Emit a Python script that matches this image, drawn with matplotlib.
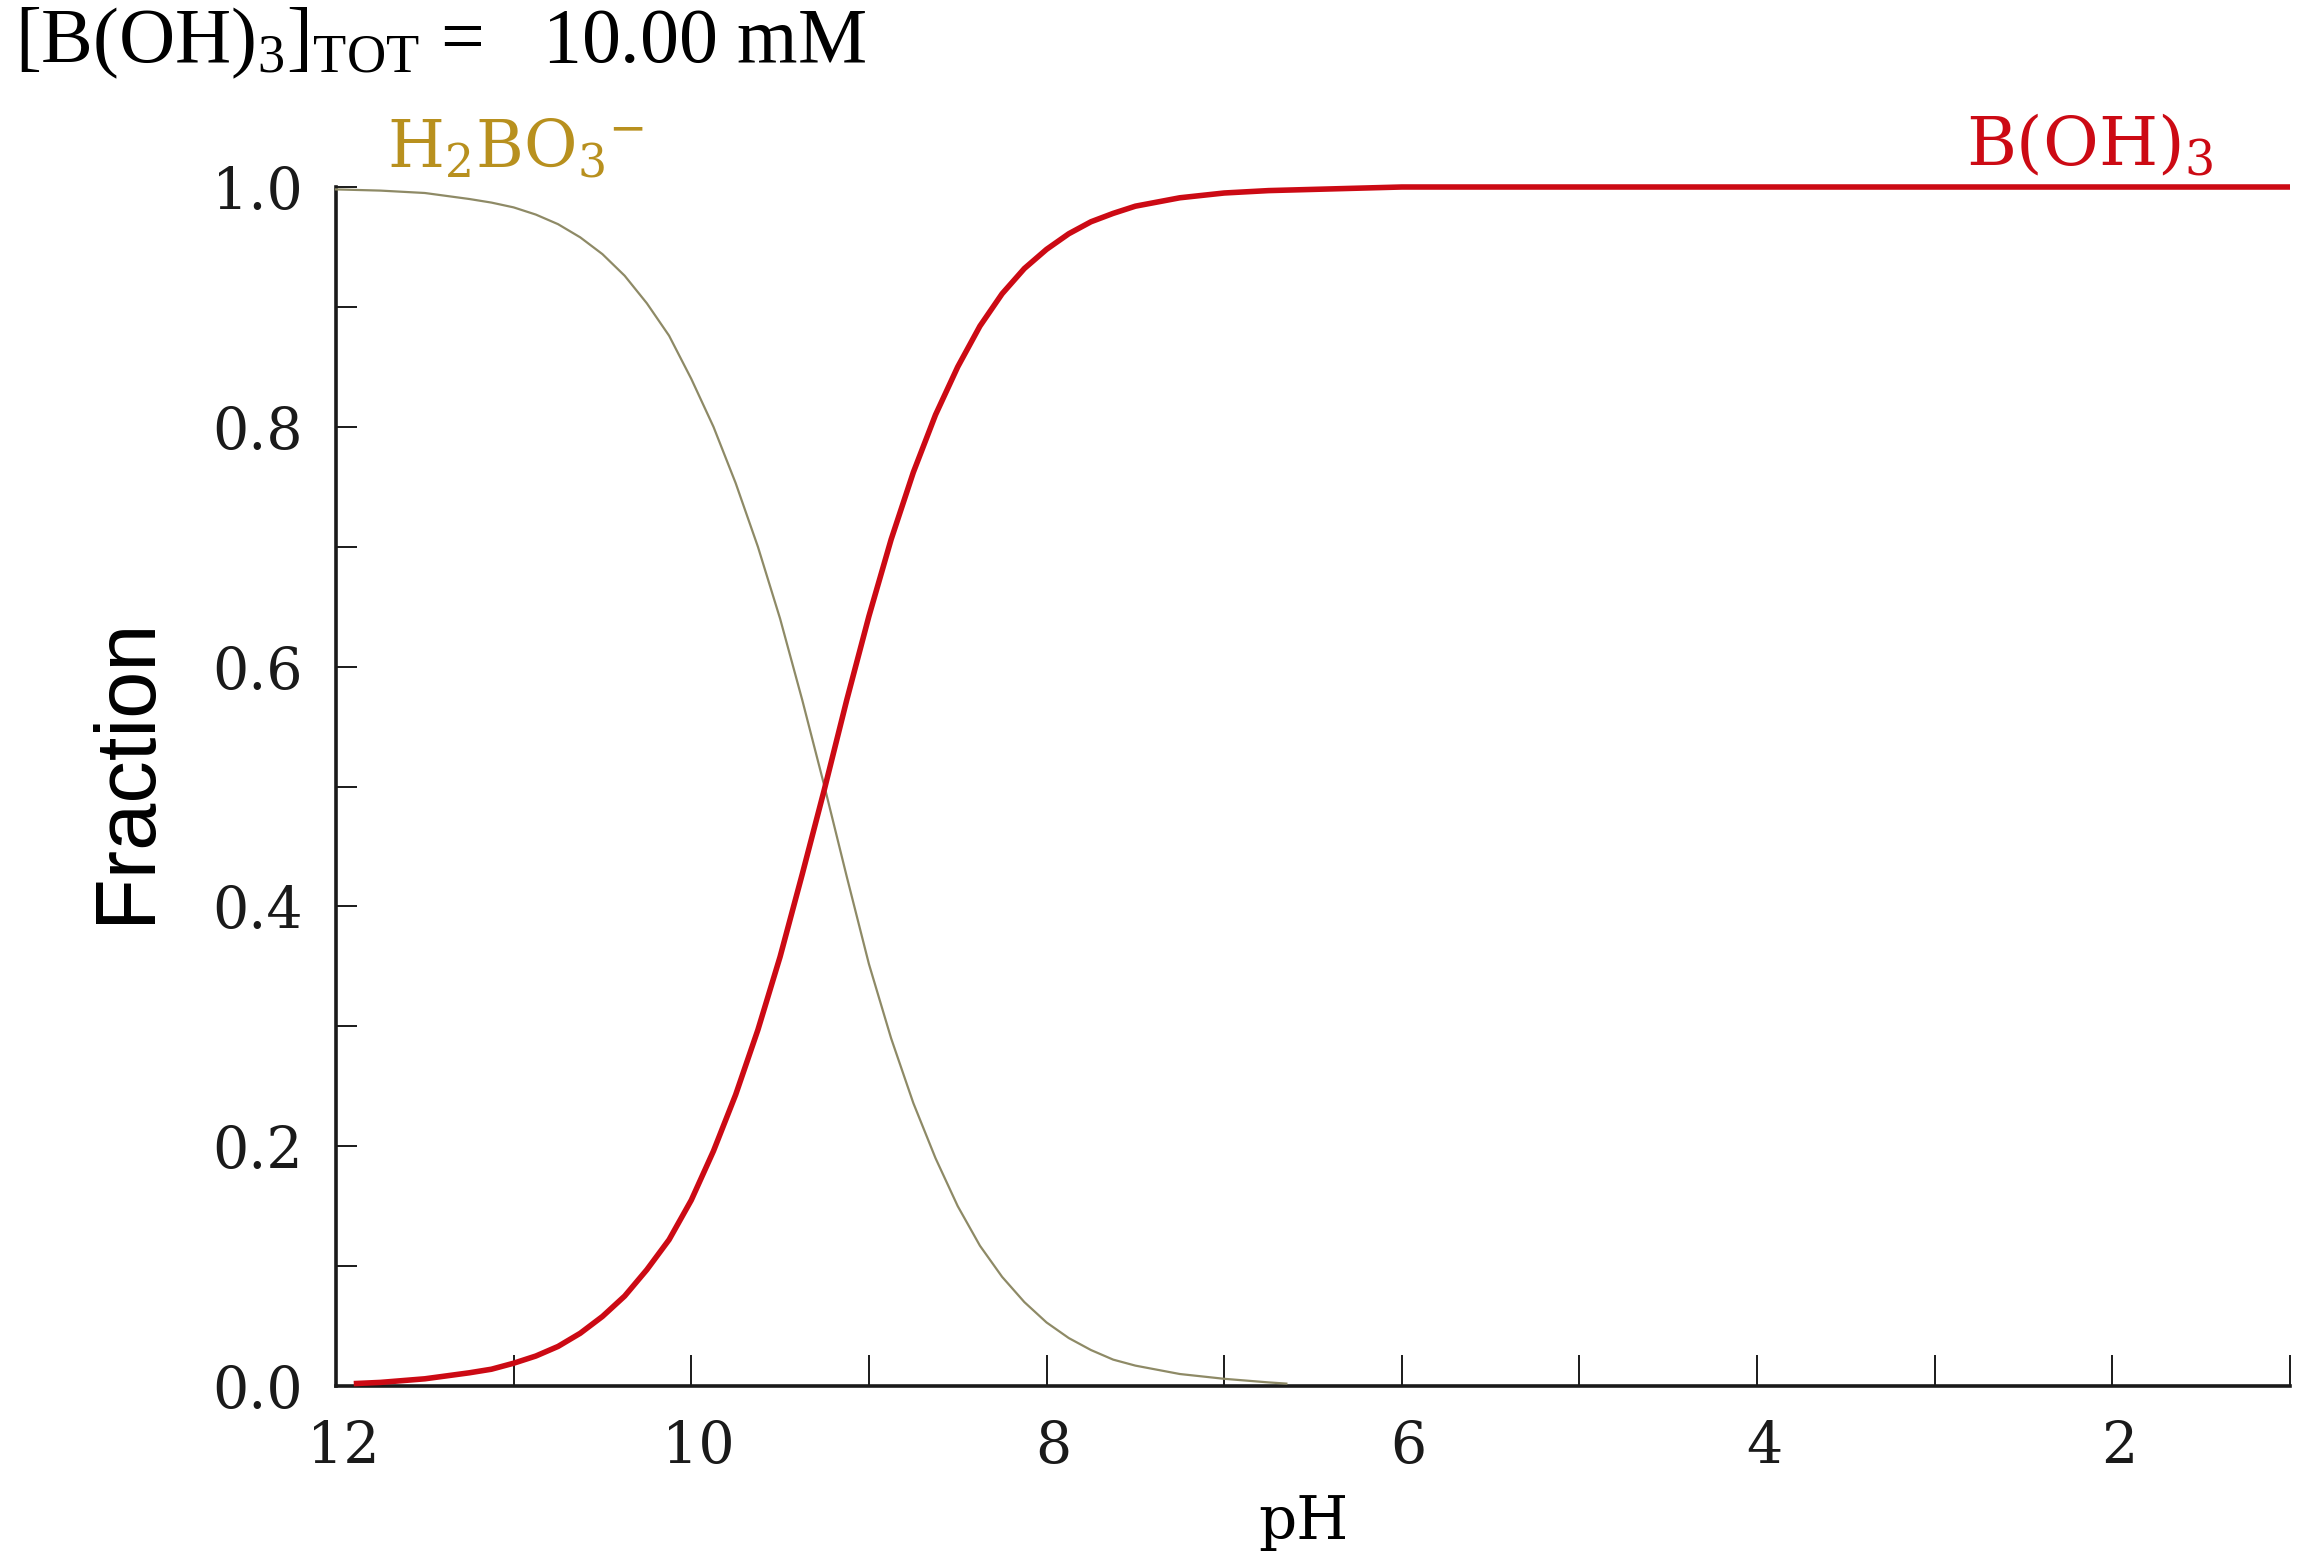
import matplotlib
matplotlib.use("Agg")
import matplotlib.pyplot as plt
import matplotlib.transforms as mtransforms

# ---- data ----
ph_boh3 = [11.9, 11.75, 11.5, 11.25, 11.125, 11.0, 10.875, 10.75, 10.625,
           10.5, 10.375, 10.25, 10.125, 10.0, 9.875, 9.75, 9.625, 9.5, 9.375,
           9.25, 9.125, 9.0, 8.875, 8.75, 8.625, 8.5, 8.375, 8.25, 8.125, 8.0,
           7.875, 7.75, 7.625, 7.5, 7.25, 7.0, 6.75, 6.5, 6.25, 6.0, 1.0]
frac_boh3 = [0.002, 0.003, 0.006, 0.011, 0.014, 0.019, 0.025, 0.033, 0.044,
             0.058, 0.075, 0.097, 0.122, 0.155, 0.196, 0.243, 0.297, 0.358,
             0.427, 0.498, 0.572, 0.642, 0.706, 0.762, 0.810, 0.850, 0.884,
             0.911, 0.932, 0.948, 0.961, 0.971, 0.978, 0.984, 0.991, 0.995,
             0.997, 0.998, 0.999, 1.0, 1.0]

ph_h2bo3 = [12.0, 11.75, 11.5, 11.25, 11.125, 11.0, 10.875, 10.75, 10.625,
            10.5, 10.375, 10.25, 10.125, 10.0, 9.875, 9.75, 9.625, 9.5, 9.375,
            9.25, 9.125, 9.0, 8.875, 8.75, 8.625, 8.5, 8.375, 8.25, 8.125,
            8.0, 7.875, 7.75, 7.625, 7.5, 7.25, 7.0, 6.75, 6.65]
frac_h2bo3 = [0.998, 0.997, 0.995, 0.990, 0.987, 0.983, 0.977, 0.969, 0.958,
              0.944, 0.926, 0.903, 0.876, 0.840, 0.800, 0.753, 0.700, 0.640,
              0.572, 0.500, 0.425, 0.352, 0.290, 0.236, 0.190, 0.150, 0.117,
              0.091, 0.070, 0.053, 0.040, 0.030, 0.022, 0.017, 0.010, 0.006,
              0.003, 0.002]

x_ticks = [12, 11, 10, 9, 8, 7, 6, 5, 4, 3, 2, 1]
x_labels = ["12", "", "10", "", "8", "", "6", "", "4", "", "2", ""]
y_ticks = [0.0, 0.1, 0.2, 0.3, 0.4, 0.5, 0.6, 0.7, 0.8, 0.9, 1.0]
y_labels = ["0.0", "", "0.2", "", "0.4", "", "0.6", "", "0.8", "", "1.0"]

title_text = "[B(OH)$_3$]$_{\\mathrm{TOT}}$ =   10.00 mM"
label_h2bo3 = "H$_2$BO$_3$$^{-}$"
label_boh3 = "B(OH)$_3$"

# ---- figure ----
plt.rcParams["mathtext.fontset"] = "custom"
plt.rcParams["mathtext.rm"] = "Liberation Serif"
plt.rcParams["mathtext.it"] = "Liberation Serif:italic"
plt.rcParams["mathtext.bf"] = "Liberation Serif:bold"

W, H = 2315, 1568
fig = plt.figure(figsize=(W / 100, H / 100), dpi=100)
ax = fig.add_axes([336 / W, 1 - 1386 / H, (2290 - 336) / W, (1386 - 187) / H])

col_red = "#cc0a14"
col_olive = "#8e8a66"
col_gold = "#b8901e"

ax.plot(ph_h2bo3, frac_h2bo3, color=col_olive, lw=1.6, clip_on=False, zorder=3)
ax.plot(ph_boh3, frac_boh3, color=col_red, lw=4.0, clip_on=False, zorder=4,
        solid_capstyle="butt", solid_joinstyle="round")

ax.set_xlim(12, 1)
ax.set_ylim(0, 1.0)

for s in ["top", "right"]:
    ax.spines[s].set_visible(False)
for s in ["left", "bottom"]:
    ax.spines[s].set_linewidth(2.6)
    ax.spines[s].set_color("#1a1a1a")

ax.set_xticks(x_ticks)
ax.set_xticklabels(x_labels, family="DejaVu Serif", fontsize=41)
ax.set_yticks(y_ticks)
ax.set_yticklabels(y_labels, family="DejaVu Serif", fontsize=41)
ax.tick_params(axis="x", direction="in", length=22, width=1.4, pad=24,
               colors="#1a1a1a")
ax.tick_params(axis="y", direction="in", length=15, width=1.4, pad=24,
               colors="#1a1a1a")

# slight rightward offset of x tick labels, as in the reference
offset = mtransforms.ScaledTranslation(7 / 100, 0, fig.dpi_scale_trans)
for lbl in ax.get_xticklabels():
    lbl.set_transform(lbl.get_transform() + offset)

# axis labels
fig.text(127 / W, 1 - 770 / H, "Fraction", family="Liberation Sans",
         fontsize=61, rotation=90, ha="center", va="center")
fig.text(1303 / W, 1 - 1522 / H, "pH", family="DejaVu Serif", fontsize=43,
         ha="center", va="center")

# title-like annotation
fig.text(15 / W, 1 - 62 / H, title_text, family="Liberation Serif",
         fontsize=56, ha="left", va="baseline")

# species labels
fig.text(387 / W, 1 - 167 / H, label_h2bo3, family="DejaVu Serif",
         fontsize=47, color=col_gold, ha="left", va="baseline",
         math_fontfamily="dejavuserif")
fig.text(1966 / W, 1 - 165 / H, label_boh3, family="DejaVu Serif",
         fontsize=49, color=col_red, ha="left", va="baseline",
         math_fontfamily="dejavuserif")

fig.savefig("out.png", dpi=100, facecolor="white")
